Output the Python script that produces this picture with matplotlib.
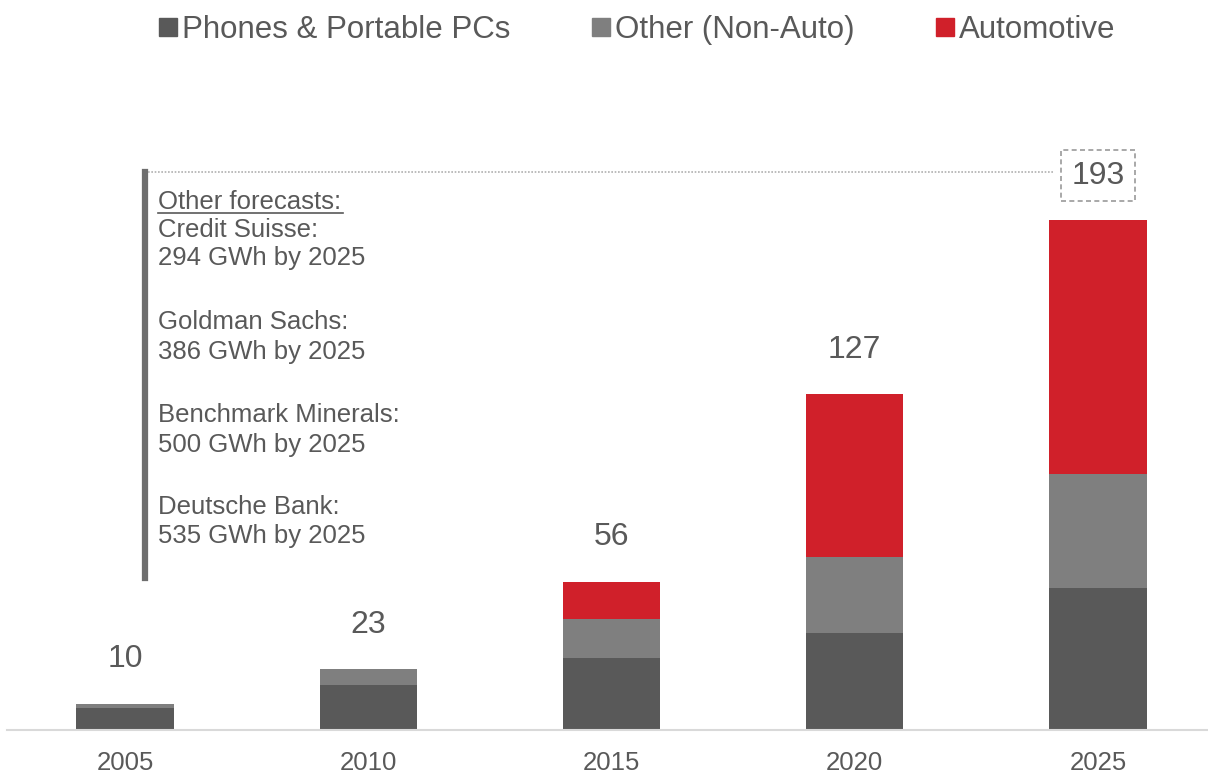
import matplotlib.pyplot as plt
import numpy as np
from matplotlib.lines import Line2D

# datos
years = ["2005", "2010", "2015", "2020", "2025"]
phones = [8.2, 17.2, 27.3, 36.8, 53.8]
other = [1.8, 5.8, 14.8, 28.8, 43.1]
auto = [0.0, 0.0, 14.0, 61.4, 96.1]
totals = ["10", "23", "56", "127", "193"]

forecast_lines = [
    ("Credit Suisse:", 230), ("294 GWh by 2025", 258),
    ("Goldman Sachs:", 322), ("386 GWh by 2025", 352),
    ("Benchmark Minerals:", 415), ("500 GWh by 2025", 445),
    ("Deutsche Bank:", 507), ("535 GWh by 2025", 536),
]

C_DARK = "#595959"
C_GRAY = "#7f7f7f"
C_RED = "#d0202a"
C_TEXT = "#595959"

plt.rcParams['font.family'] = ['Liberation Sans', 'DejaVu Sans']

W, H = 1208, 773
fig = plt.figure(figsize=(W / 100, H / 100), dpi=100)


def fx(x):
    return x / W


def fy(y):
    return 1 - y / H


# ejes: base en y=730 px, arriba en y=60 px
ax = fig.add_axes([fx(7), fy(730), fx(1208 - 7), fy(60) - fy(730)])
x = np.arange(len(years))
width = 0.40

ax.bar(x, phones, width, color=C_DARK, label="Phones & Portable PCs")
ax.bar(x, other, width, bottom=phones, color=C_GRAY, label="Other (Non-Auto)")
bot2 = np.array(phones) + np.array(other)
ax.bar(x, auto, width, bottom=bot2, color=C_RED, label="Automotive")

tops = bot2 + np.array(auto)
for i, t in enumerate(totals):
    kw = {}
    if i == len(totals) - 1:
        kw["bbox"] = dict(boxstyle="square,pad=0.32", fc="white", ec="#9a9a9a",
                          ls=(0, (3, 2)), lw=1.2)
    ax.annotate(t, (x[i], tops[i]), xytext=(0, 32), textcoords="offset points",
                ha="center", va="center", fontsize=23, color=C_TEXT, **kw)

ax.set_xlim(-0.485, 4.452)
ax.set_ylim(0, 253.6)
ax.set_xticks(x)
ax.set_xticklabels(years, fontsize=18.5, color=C_TEXT)
ax.tick_params(axis="x", length=0, pad=15)
ax.set_yticks([])
for s in ["top", "left", "right"]:
    ax.spines[s].set_visible(False)
ax.spines["bottom"].set_color("#d9d9d9")
ax.spines["bottom"].set_linewidth(1.5)

# leyenda
handles = [Line2D([], [], marker="s", ls="", color=c, markersize=13.5)
           for c in (C_DARK, C_GRAY, C_RED)]
labels = ["Phones & Portable PCs", "Other (Non-Auto)", "Automotive"]
fig.legend(handles, labels, loc="center", bbox_to_anchor=(fx(637), fy(30)),
           ncol=3, frameon=False, fontsize=22.5, labelcolor=C_TEXT,
           handlelength=0.6, handletextpad=0.15, columnspacing=2.6)

# otras previsiones
fig.add_artist(Line2D([fx(145), fx(145)], [fy(172), fy(578)], color="#6e6e6e", lw=4.5))
fig.add_artist(Line2D([fx(148), fx(1054)], [fy(172), fy(172)], color="#b0b0b0",
                      lw=1.2, ls=(0, (1, 1))))
fig.text(fx(158), fy(202), "Other forecasts:", fontsize=18.5, color=C_TEXT, va="center")
fig.add_artist(Line2D([fx(158), fx(343)], [fy(213), fy(213)], color=C_TEXT, lw=1.2))
for txt, yy in forecast_lines:
    fig.text(fx(158), fy(yy), txt, fontsize=18.5, color=C_TEXT, va="center")

fig.savefig("out.png", dpi=100)
